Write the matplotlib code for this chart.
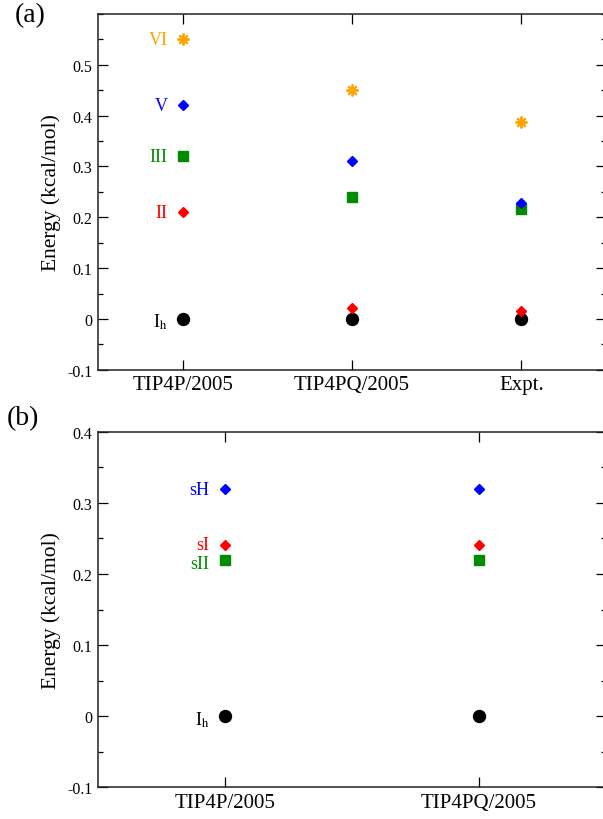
import numpy as np
import matplotlib
matplotlib.use('Agg')
import matplotlib.pyplot as plt
from matplotlib.ticker import MultipleLocator

plt.rcParams['font.family'] = ['Liberation Serif', 'DejaVu Serif']
plt.rcParams['mathtext.fontset'] = 'stix'

# (a) ice phases
models_a = ['TIP4P/2005', 'TIP4PQ/2005', 'Expt.']
ice_ih = [0.0, 0.0, 0.0]
ice_ii = [0.21, 0.021, 0.015]
ice_iii = [0.32, 0.24, 0.216]
ice_v = [0.42, 0.31, 0.228]
ice_vi = [0.55, 0.451, 0.388]

# (b) hydrates
models_b = ['TIP4P/2005', 'TIP4PQ/2005']
hyd_ih = [0.0, 0.0]
hyd_si = [0.24, 0.24]
hyd_sii = [0.22, 0.22]
hyd_sh = [0.32, 0.32]

orange = '#ffa500'
blue = '#0000ff'
green = '#008b00'
red = '#ff0000'

fig = plt.figure(figsize=(6.03, 8.2), dpi=100)
W = 508 / 603
ax1 = fig.add_axes([98 / 603, 1 - 370.8 / 820, W, 355.8 / 820])
ax2 = fig.add_axes([98 / 603, 1 - 788.3 / 820, W, 355.6 / 820])


def style(ax, ymin, ymax, yticks, names):
    ax.set_xlim(0.5, len(names) + 0.5)
    ax.set_ylim(ymin, ymax)
    ax.set_xticks(np.arange(1, len(names) + 1))
    ax.set_xticklabels(names)
    ax.set_yticks(yticks)
    ax.set_yticklabels(['0' if abs(t) < 1e-9 else f'{t:.1f}' for t in yticks])
    ax.yaxis.set_minor_locator(MultipleLocator(0.05))
    ax.tick_params(which='both', direction='in', top=True, right=True)
    ax.tick_params(which='major', length=7, width=0.9)
    ax.tick_params(which='minor', length=3.6, width=0.9)
    ax.tick_params(axis='x', labelsize=15, pad=4)
    ax.tick_params(axis='y', labelsize=11.5, pad=4)
    for s in ax.spines.values():
        s.set_linewidth(1.1)
        s.set_color('#222222')
    ax.set_ylabel('Energy (kcal/mol)', fontsize=15.5)
    ax.yaxis.set_label_coords(-0.072, 0.5)


def label(ax, x, y, txt, color, dy=0):
    ax.annotate(txt, (x, y), xytext=(-11, dy), textcoords='offset points',
                ha='right', va='center', color=color, fontsize=13)


# panel (a)
x_a = np.arange(1, len(models_a) + 1)
ax1.plot(x_a, ice_ih, 'o', color='black', ms=8.6, ls='none')
ax1.plot(x_a, ice_ii, 'D', color=red, ms=5.6, ls='none')
ax1.plot(x_a, ice_iii, 's', color=green, ms=6.8, ls='none')
ax1.plot(x_a, ice_v, 'D', color=blue, ms=5.6, ls='none')
ax1.plot(x_a, ice_vi, marker=(8, 2, 0), color=orange, ms=8.5, mew=1.4, ls='none')
style(ax1, -0.1, 0.6, np.arange(-0.1, 0.51, 0.1), models_a)
label(ax1, x_a[0], ice_vi[0], 'VI', orange)
label(ax1, x_a[0], ice_v[0], 'V', blue)
label(ax1, x_a[0], ice_iii[0], 'III', green)
label(ax1, x_a[0], ice_ii[0], 'II', red)
label(ax1, x_a[0], ice_ih[0], r'I$_\mathrm{h}$', 'black', dy=-2)

# panel (b)
x_b = np.arange(1, len(models_b) + 1)
ax2.plot(x_b, hyd_ih, 'o', color='black', ms=8.6, ls='none')
ax2.plot(x_b, hyd_si, 'D', color=red, ms=5.6, ls='none')
ax2.plot(x_b, hyd_sii, 's', color=green, ms=6.8, ls='none')
ax2.plot(x_b, hyd_sh, 'D', color=blue, ms=5.6, ls='none')
style(ax2, -0.1, 0.4, np.arange(-0.1, 0.41, 0.1), models_b)
label(ax2, x_b[0], hyd_sh[0], 'sH', blue, dy=-1)
label(ax2, x_b[0], hyd_si[0], 'sI', red, dy=1)
label(ax2, x_b[0], hyd_sii[0], 'sII', green, dy=-2.5)
label(ax2, x_b[0], hyd_ih[0], r'I$_\mathrm{h}$', 'black', dy=-2)

fig.text(15 / 603, 1 - 3 / 820, '(a)', fontsize=20, va='top', ha='left')
fig.text(7 / 603, 1 - 406 / 820, '(b)', fontsize=20, va='top', ha='left')

fig.savefig('out.png', dpi=100)
